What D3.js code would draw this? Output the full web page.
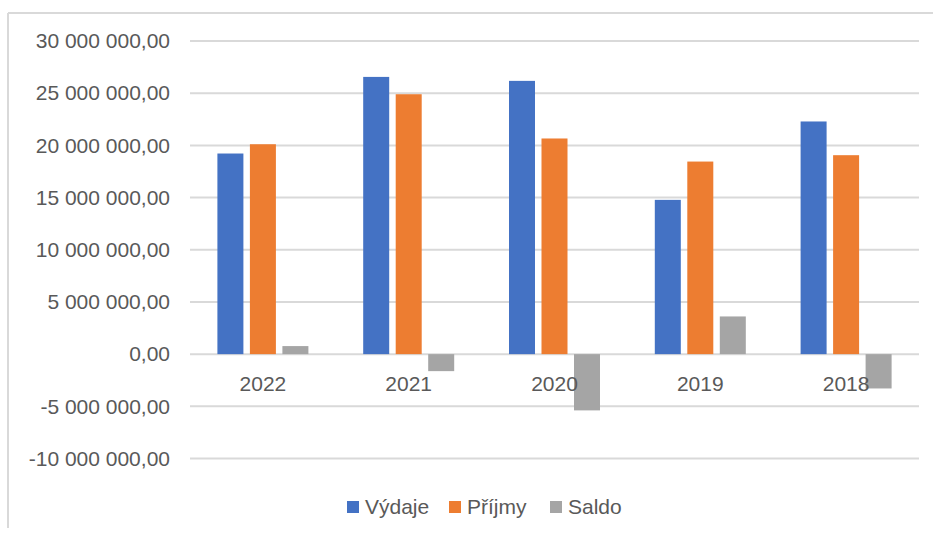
<!DOCTYPE html>
<html>
<head>
<meta charset="utf-8">
<script src="https://cdn.jsdelivr.net/npm/d3@7"></script>
<style>
  body { margin: 0; background: #fff; }
  text { font-family: "Liberation Sans", Arial, sans-serif; fill: #595959; }
</style>
</head>
<body>
<div id="chart"></div>
<script>
let width = 933, height = 536;

// data
let years = ["2022", "2021", "2020", "2019", "2018"];
let series = ["Výdaje", "Příjmy", "Saldo"];
let vydaje = [19220000, 26560000, 26180000, 14780000, 22290000];
let prijmy = [20110000, 24900000, 20660000, 18450000, 19060000];
let saldo  = [770000, -1630000, -5390000, 3610000, -3290000];
let yTicks = [-10000000, -5000000, 0, 5000000, 10000000, 15000000, 20000000, 25000000, 30000000];
let colors = ["#4472C4", "#ED7D31", "#A5A5A5"];

let values = [vydaje, prijmy, saldo];

let svg = d3.select("#chart")
    .append("svg")
    .attr("width", width)
    .attr("height", height);

// chart frame (only top and left edges visible in the shot)
svg.append("line").attr("x1", 8).attr("x2", width).attr("y1", 13).attr("y2", 13)
    .attr("stroke", "#d9d9d9").attr("stroke-width", 2);
svg.append("line").attr("x1", 8).attr("x2", 8).attr("y1", 13).attr("y2", 528)
    .attr("stroke", "#d9d9d9").attr("stroke-width", 2);

let x = d3.scaleBand().domain(years).range([190, 919]).paddingInner(0).paddingOuter(0);
let y = d3.scaleLinear().domain([-10000000, 30000000]).range([458.5, 41]);

// czech style number: space thousands, comma decimals, plain hyphen minus
let cz = d3.formatLocale({ decimal: ",", thousands: " ", grouping: [3], currency: ["", " Kč"], minus: "-" });
let fmt = cz.format(",.2f");

// gridlines
svg.append("g")
    .selectAll("line")
    .data(yTicks)
    .enter().append("line")
    .attr("x1", 190).attr("x2", 919)
    .attr("y1", function(d) { return y(d); })
    .attr("y2", function(d) { return y(d); })
    .attr("stroke", "#d9d9d9")
    .attr("stroke-width", 2);

// y axis labels
let yAxis = d3.axisLeft(y).tickValues(yTicks).tickFormat(fmt).tickSize(0).tickPadding(0);
let gy = svg.append("g").attr("transform", "translate(170,0)").call(yAxis);
gy.select(".domain").remove();
gy.selectAll("text")
    .style("font-size", "21px")
    .attr("font-family", null)
    .attr("fill", "#595959");

// bars
let barW = 26, groupW = 91, step = 32.5;

series.forEach(function(s, i) {
    svg.append("g")
        .selectAll("rect")
        .data(years)
        .enter().append("rect")
        .attr("x", function(d) { return x(d) + (x.bandwidth() - groupW) / 2 + i * step; })
        .attr("width", barW)
        .attr("y", function(d, j) { return y(Math.max(0, values[i][j])); })
        .attr("height", function(d, j) { return Math.abs(y(values[i][j]) - y(0)); })
        .attr("fill", colors[i]);
});

// category labels
svg.append("g")
    .selectAll("text")
    .data(years)
    .enter().append("text")
    .attr("x", function(d) { return x(d) + x.bandwidth() / 2; })
    .attr("y", 391)
    .attr("text-anchor", "middle")
    .style("font-size", "21px")
    .text(function(d) { return d; });

// legend
let legendX = [347, 449, 550];
let legend = svg.append("g")
    .selectAll("g")
    .data(series)
    .enter().append("g")
    .attr("transform", function(d, i) { return "translate(" + legendX[i] + ",501)"; });

legend.append("rect")
    .attr("width", 12).attr("height", 12)
    .attr("fill", function(d, i) { return colors[i]; });

legend.append("text")
    .attr("x", 18)
    .attr("y", 13)
    .style("font-size", "21px")
    .text(function(d) { return d; });
</script>
</body>
</html>
